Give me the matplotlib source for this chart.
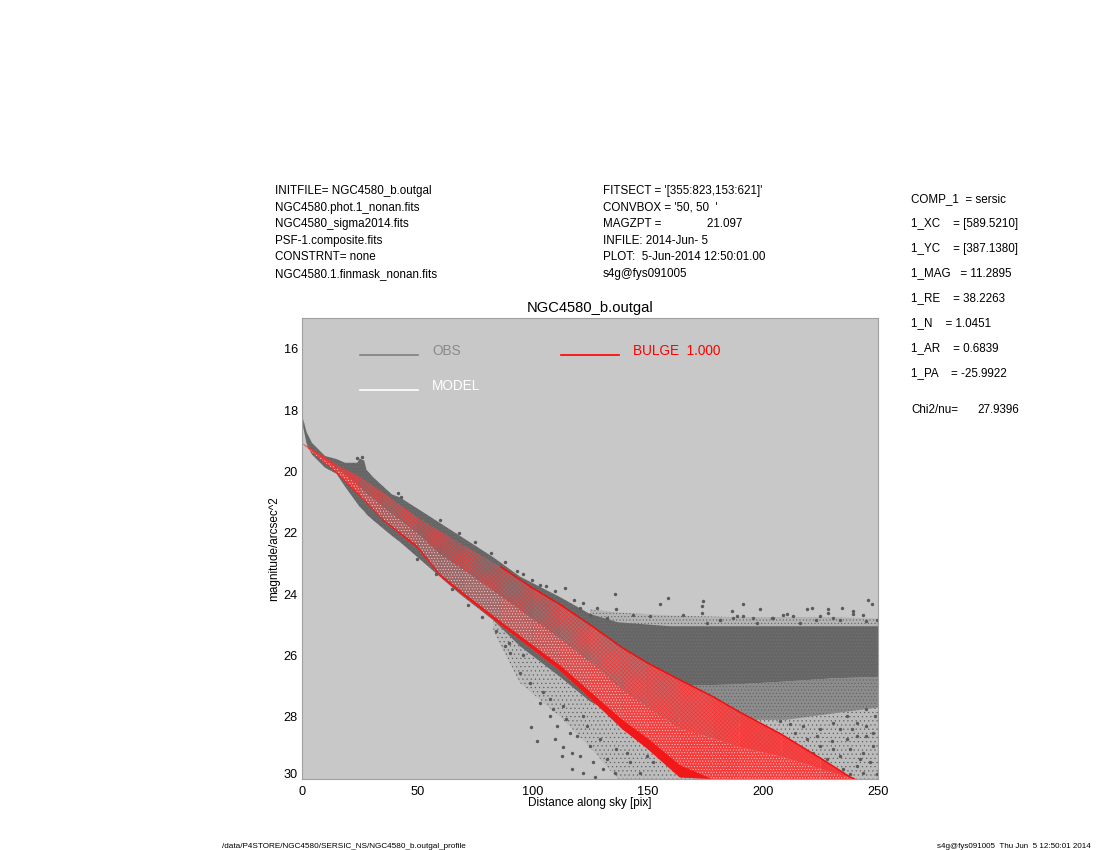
import matplotlib
matplotlib.use("Agg")
import matplotlib.pyplot as plt
from matplotlib.transforms import ScaledTranslation

plt.rcParams['font.family'] = ['Liberation Sans', 'DejaVu Sans']
plt.rcParams['hatch.linewidth'] = 0.35

grey_x = [0.5, 2, 4.3, 10, 15, 18.7, 24, 25, 27, 28, 31, 39, 42.5, 54, 68.5, 83, 94.6, 112, 125, 137, 160, 187, 210, 230, 250]
grey_top = [18.3, 18.72, 19.07, 19.5, 19.6, 19.72, 19.72, 19.58, 19.65, 19.95, 20.2, 20.75, 20.85, 21.4, 22.1, 22.8, 23.43, 24.1, 24.65,
            24.92, 25.05, 25.05, 25.05, 25.05, 25.05]
grey_bot = [18.55, 19.1, 19.45, 19.88, 20.08, 20.5, 21.05, 21.15, 21.3, 21.4, 21.6, 22.1, 22.3, 23.05, 24.0, 24.85, 25.7, 26.7, 27.5,
            28.0, 27.0, 26.95, 26.85, 26.75, 26.7]

# thinning part of the cloud on the right
mid_x = [137, 160, 187, 210, 230, 250]
mid_top = [28.0, 27.0, 26.95, 26.85, 26.75, 26.7]
mid_bot = [28.2, 28.0, 28.1, 28.1, 27.9, 27.7]

# thin part of the cloud, below the dense part
sparse_x = [83, 94.6, 112, 125, 137, 160, 187, 210, 230, 250]
sparse_top = [24.85, 25.7, 26.7, 27.5, 28.0, 28.0, 28.1, 28.1, 27.9, 27.7]
sparse_bot = [25.2, 26.9, 28.0, 29.0, 30.03, 30.03, 30.03, 30.03, 30.03, 30.03]

# thin fringe on top of the plateau
fringe_x = [125, 137, 160, 187, 210, 230, 250]
fringe_top = [24.5, 24.6, 24.7, 24.75, 24.75, 24.75, 24.8]
fringe_bot = [24.65, 24.95, 25.05, 25.05, 25.05, 25.05, 25.05]

# single points that stand clear of the cloud
out_x = [135.8, 159, 174.2, 173.4, 173.4, 186.5, 191.5, 198.8, 208.9, 219, 221.2, 228.4, 234.2, 239.3, 245.8, 247.2,
         155.4, 143.8, 136.5, 132.2, 125, 120.6, 114.1, 103.3, 93.1, 181.4, 188.6, 195.9, 204.6, 213.2, 224.8, 243.6,
         230.6, 165.5, 151, 99.6, 102.1, 109.8, 113.4, 112.7, 117, 122.1, 127.1, 117, 107.6, 103.3, 94.6, 88.1, 90.2,
         98.9, 110.5, 120.6, 125, 132.2, 136.5, 142.3, 146.7, 152.5, 129.3, 123.5, 114.8, 104.7, 135.8, 130.8, 119.2,
         113.4, 107.6, 116.3, 126.4, 140.9, 149.6, 109, 122.1, 245, 240.7, 247.9, 243.6, 237.8, 246.5, 240.7, 234.9,
         243.6, 233.5, 229.9, 224.8, 219, 213.9, 227.7, 221.9, 236.4, 245, 233.5, 240.7, 248.7, 247.9, 242.2, 249.4,
         237.8, 230.6, 224.8, 230.6, 236.4, 245, 211.8, 207.4, 217.6, 223.4, 238.5, 41.5, 43,
         60, 68, 75, 82, 88, 96, 100, 106, 110, 118, 122, 128, 50, 58, 65, 72, 78, 84, 90, 96, 24, 26,
         175.6, 181.4, 187.2, 191.5, 197.3, 203.8, 210.3, 216.1, 223.3, 228.4, 233.5, 239.3, 245, 249.4]
out_y = [24.0, 24.12, 24.23, 24.39, 24.61, 24.56, 24.34, 24.48, 24.67, 24.48, 24.45, 24.5, 24.45, 24.56, 24.18, 24.34,
         24.34, 24.67, 24.5, 24.77, 24.67, 24.45, 23.8, 23.69, 23.25, 24.83, 24.72, 24.77, 24.77, 24.72, 24.72, 24.67,
         24.77, 24.67, 24.72, 28.35, 28.79, 28.73, 29.0, 29.28, 29.71, 29.82, 29.98, 29.17, 27.97, 27.54, 26.56, 25.7,
         25.91, 26.89, 28.3, 29.28, 28.95, 29.38, 29.06, 29.49, 29.82, 29.49, 28.73, 28.3, 28.08, 27.2, 29.82, 29.71,
         28.63, 27.65, 27.43, 28.52, 29.49, 29.17, 29.28, 27.76, 27.97, 28.3, 28.62, 28.95, 29.17, 29.06, 29.49, 29.6,
         29.71, 29.82, 29.28, 28.79, 28.95, 28.73, 28.52, 29.38, 29.17, 28.73, 28.62, 28.41, 28.19, 27.97, 28.52, 29.38,
         29.87, 29.87, 29.06, 28.41, 28.19, 27.97, 27.76, 28.24, 28.14, 28.3, 28.62, 28.41, 20.7, 20.85,
         21.6, 22.0, 22.3, 22.65, 22.95, 23.35, 23.55, 23.75, 23.9, 24.2, 24.3, 24.45,
         22.85, 23.35, 23.85, 24.35, 24.75, 25.2, 25.6, 26.0, 19.55, 19.52,
         24.94, 24.83, 24.77, 24.72, 24.94, 24.77, 24.66, 24.94, 24.83, 24.61, 24.83, 24.66, 24.88, 24.83]

# edges of the bulge model
red_x = [0.5, 5, 15, 25, 35, 50, 60, 70, 86, 100, 112, 125, 139, 150, 164, 178, 190, 208, 225, 238, 240]
red_top = [19.1, 19.3, 19.78, 20.17, 20.68, 21.5, 21.95, 22.4, 23.1, 23.8, 24.34, 25.0, 25.75, 26.25, 26.8, 27.33,
           27.85, 28.57, 29.35, 29.97, 30.03]
red_mid = [19.11, 19.36, 19.9, 20.5, 21.15, 22.0, 22.7, 23.2, 24.05, 24.8, 25.45, 26.2, 27.1, 27.7, 28.4, 28.7,
           29.0, 29.3, 29.7, 30.0, 30.03]
red_bot = [19.12, 19.42, 20.05, 20.8, 21.6, 22.5, 23.43, 24.05, 25.0, 25.8, 26.5, 27.4, 28.4, 29.05, 29.98, 30.03,
           30.03, 30.03, 30.03, 30.03, 30.03]
# inner side of the solid red strip along the lower edge
red_strip = [19.12, 19.42, 20.02, 20.76, 21.55, 22.42, 23.35, 23.95, 24.88, 25.66, 26.32, 27.18, 28.1, 28.7, 29.58, 30.03,
             30.03, 30.03, 30.03, 30.03, 30.03]

upper_cols = ['#e03a3a', '#e03a3a', '#c05050', '#a06060', '#8f6a6a', '#7f6c6c', '#7f6c6c', '#807070', '#887070',
              '#907070', '#9c7272', '#b07070', '#c06868', '#d06060', '#e05858', '#e85050', '#f04848', '#f04848',
              '#f04040', '#f04040']
lower_cols = ['#e84040', '#e84040', '#e84040', '#b85a5a', '#a86060', '#9a6868', '#9a6868', '#a06a6a', '#b86060',
              '#c85858', '#d85050', '#e84848', '#f04444', '#f24040', '#f43c3c', '#f43c3c', '#f64040', '#f64040',
              '#f43c3c', '#f43c3c']

x_ticks = [0, 50, 100, 150, 200, 250]
y_ticks = [16, 18, 20, 22, 24, 26, 28, 30]

left_notes = ["INITFILE= NGC4580_b.outgal", "NGC4580.phot.1_nonan.fits", "NGC4580_sigma2014.fits",
              "PSF-1.composite.fits", "CONSTRNT= none", "NGC4580.1.finmask_nonan.fits"]
mid_notes = ["FITSECT = '[355:823,153:621]'", "CONVBOX = '50, 50  '", "MAGZPT =              21.097",
             "INFILE: 2014-Jun- 5", "PLOT:  5-Jun-2014 12:50:01.00", "s4g@fys091005"]
right_notes = ["COMP_1  = sersic", "1_XC    = [589.5210]", "1_YC    = [387.1380]", "1_MAG   = 11.2895",
               "1_RE    = 38.2263", "1_N    = 1.0451", "1_AR    = 0.6839", "1_PA    = -25.9922"]

fig = plt.figure(figsize=(11, 8.5), dpi=100)
ax = fig.add_axes([302 / 1100, 1 - 779 / 850, 576 / 1100, 461 / 850])
ax.set_facecolor('#c8c8c8')
for s in ax.spines.values():
    s.set_color('#a0a0a0')
    s.set_linewidth(0.8)

ax.fill_between(fringe_x, fringe_top, fringe_bot, facecolor='#b4b4b4', edgecolor='#5a5a5a', hatch='.....', lw=0)
ax.fill_between(sparse_x, sparse_top, sparse_bot, facecolor='#bcbcbc', edgecolor='#5a5a5a', hatch='....', lw=0)
ax.fill_between(mid_x, mid_top, mid_bot, facecolor='#8c8c8c', edgecolor='#5c5c5c', hatch='.....', lw=0)
ax.fill_between(grey_x, grey_top, grey_bot, facecolor='#666666', edgecolor='#767676', hatch='.....', lw=0)
ax.scatter(out_x, out_y, s=6, marker='o', color='#5a5a5a', lw=0)

# model wedge, cell by cell so the colour can change along it
for i in range(len(red_x) - 1):
    xs = red_x[i:i + 2]
    ax.fill_between(xs, red_top[i:i + 2], red_mid[i:i + 2], facecolor=upper_cols[i], edgecolor='#f83030',
                    hatch='xxxxxxxx', lw=0)
    ax.fill_between(xs, red_mid[i:i + 2], red_bot[i:i + 2], facecolor=lower_cols[i], edgecolor='#ffd8d8',
                    hatch='......', lw=0)
ax.fill_between(red_x, red_strip, red_bot, facecolor='#f01818', lw=0)
ax.plot(red_x[8:], red_top[8:], color='#f01010', lw=1.1, solid_capstyle='butt')

ax.set_xlim(0, 250)
ax.set_ylim(30.03, 15)
ax.set_xticks(x_ticks)
ax.set_yticks(y_ticks)
ax.tick_params(length=0, labelsize=9.2, pad=3)
ax.tick_params(axis='x', pad=5)
last = ax.get_yticklabels()[-1]
last.set_transform(last.get_transform() + ScaledTranslation(0, 3 / 72, fig.dpi_scale_trans))

# legend by hand, same as the original layout
ax.plot([0.1007, 0.2014], [0.9197, 0.9197], color='#808080', lw=1.2, transform=ax.transAxes)
ax.plot([0.1007, 0.2014], [0.8438, 0.8438], color='white', lw=1.2, transform=ax.transAxes)
ax.plot([0.4497, 0.5503], [0.9197, 0.9197], color='red', lw=1.2, transform=ax.transAxes)
ax.text(0.2257, 0.9285, 'OBS', color='#8a8a8a', fontsize=9.8, va='center', transform=ax.transAxes)
ax.text(0.2257, 0.8525, 'MODEL', color='white', fontsize=9.8, va='center', transform=ax.transAxes)
ax.text(0.5747, 0.9285, 'BULGE  1.000', color='red', fontsize=9.8, va='center', transform=ax.transAxes)


def put(px, py, txt, size=8.4, **kw):
    fig.text(px / 1100, 1 - py / 850, txt, fontsize=size, va='center', **kw)


for i, t in enumerate(left_notes):
    put(275, 191 + i * 16.6, t)
for i, t in enumerate(mid_notes):
    put(603, 191 + i * 16.6, t)
for i, t in enumerate(right_notes):
    put(911, 199 + i * 24.85, t)
put(911, 410, "Chi2/nu=")
put(977, 410, "27.9396")

put(590, 308, "NGC4580_b.outgal", size=10.6, ha='center')
put(590, 803, "Distance along sky [pix]", size=8.5, ha='center')
put(274, 549, "magnitude/arcsec^2", size=8.5, ha='center', rotation=90)
put(222, 846, "/data/P4STORE/NGC4580/SERSIC_NS/NGC4580_b.outgal_profile", size=5.85)
put(1091, 846, "s4g@fys091005  Thu Jun  5 12:50:01 2014", size=5.8, ha='right')

fig.savefig('out.png', dpi=100)
